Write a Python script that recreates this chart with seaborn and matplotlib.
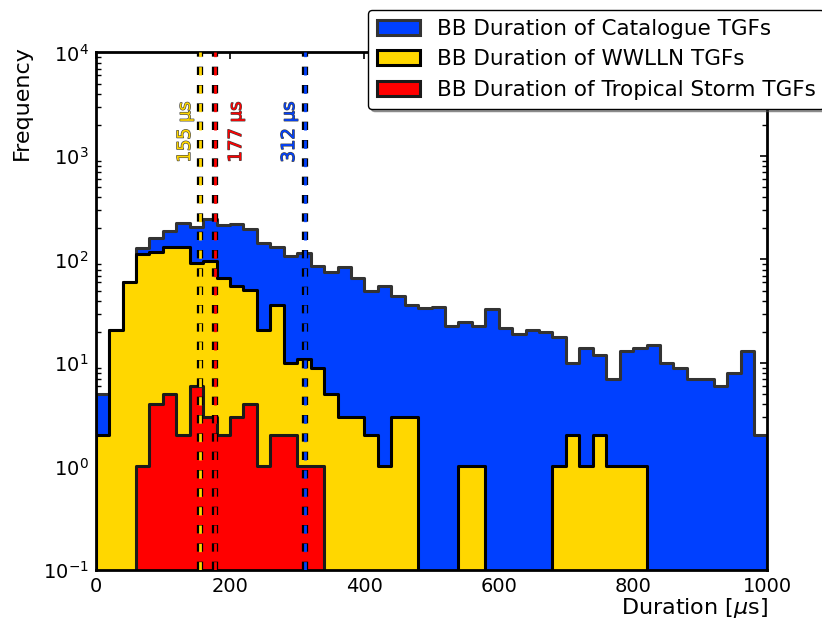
import numpy as np
import pandas as pd
import matplotlib
matplotlib.use("Agg")
import matplotlib.pyplot as plt
import matplotlib.patheffects as pe
import seaborn as sns

# Burst-duration histograms, 20 µs bins from 0 to 1000 µs
bin_width = 20
duration_range = (0, 1000)
bin_edges = np.arange(duration_range[0], duration_range[1] + bin_width, bin_width)
bin_centers = bin_edges[:-1] + bin_width / 2

catalogue_counts = [5, 21, 60, 128, 162, 187, 224, 207, 248, 215,
                    219, 196, 143, 133, 109, 115, 86, 75, 84, 66,
                    50, 55, 44, 36, 34, 35, 23, 25, 23, 33,
                    22, 19, 21, 20, 18, 10, 14, 12, 7, 13,
                    14, 15, 10, 9, 7, 7, 6, 8, 13, 2]
wwlln_counts = [2, 21, 60, 112, 117, 131, 131, 93, 97, 66,
                55, 51, 21, 36, 10, 11, 9, 5, 3, 3,
                2, 1, 3, 3, 0, 0, 0, 1, 1, 0,
                0, 0, 0, 0, 1, 2, 1, 2, 1, 1,
                1, 0, 0, 0, 0, 0, 0, 0, 0, 0]
storm_counts = [0, 0, 0, 1, 4, 5, 2, 6, 3, 2,
                3, 4, 1, 2, 2, 1, 1, 0, 0, 0,
                0, 0, 0, 0, 0, 0, 0, 0, 0, 0,
                0, 0, 0, 0, 0, 0, 0, 0, 0, 0,
                0, 0, 0, 0, 0, 0, 0, 0, 0, 0]

series_labels = ["BB Duration of Catalogue TGFs",
                 "BB Duration of WWLLN TGFs",
                 "BB Duration of Tropical Storm TGFs"]

# Median durations (µs)
median_values = [312, 155, 177]
median_texts = ["312 µs", "155 µs", "177 µs"]
median_text_x = [288, 133, 209]
median_text_y = 1700

blue = "#0040FF"
gold = "#FFD700"
red = "#FF0000"

sns.set_style("white")
plt.rcParams["font.family"] = ["DejaVu Sans"]
plt.rcParams["mathtext.fontset"] = "dejavusans"
plt.rcParams["axes.unicode_minus"] = False
for key in ["text.color", "axes.labelcolor", "xtick.color", "ytick.color"]:
    plt.rcParams[key] = "black"

fig = plt.figure(figsize=(8.22, 6.19), dpi=100)
ax = fig.add_axes([0.1164, 0.0792, 0.8172, 0.836])

series = [
    (catalogue_counts, blue, "#333333"),
    (wwlln_counts, gold, "black"),
    (storm_counts, red, "#1a1a1a"),
]
for (counts, face, edge), label in zip(series, series_labels):
    df = pd.DataFrame({"duration": bin_centers, "count": counts})
    sns.histplot(data=df, x="duration", weights="count",
                 binwidth=bin_width, binrange=duration_range,
                 element="step", fill=True, alpha=1, facecolor=face,
                 edgecolor=edge, linewidth=2.2, label=label, ax=ax)

ax.set_yscale("log")
ax.set_xlim(0, 1000)
ax.set_ylim(0.1, 1e4)

# Median markers: coloured dashes with a dark outline
for val, col in zip(median_values, [blue, gold, red]):
    ax.axvline(val, color=col, lw=2, ls=(0, (3, 3.6)), zorder=5,
               path_effects=[pe.Stroke(linewidth=4.5, foreground="black"),
                             pe.Normal()])
for txt, tx, col in zip(median_texts, median_text_x, [blue, gold, red]):
    ax.text(tx, median_text_y, txt, rotation=90, ha="center", va="center",
            fontsize=13, color=col, zorder=6,
            path_effects=[pe.withStroke(linewidth=0.9, foreground="#444444")])

ax.set_xticks([0, 200, 400, 600, 800, 1000])
ax.tick_params(axis="both", which="major", direction="in", length=5,
               width=1.2, top=True, right=True, labelsize=14, pad=5)
ax.tick_params(axis="y", which="minor", direction="in", length=3.5,
               width=1, left=True, right=True)
ax.tick_params(axis="x", which="minor", bottom=False, top=False)
for sp in ax.spines.values():
    sp.set_linewidth(2)
    sp.set_color("black")

ax.set_xlabel("Duration [$\\mu$s]", fontsize=16, loc="right", labelpad=0)
ax.set_ylabel("Frequency", fontsize=16, loc="top")
ax.yaxis.set_label_coords(-0.095, 1.015)

leg = ax.legend(loc="upper right", bbox_to_anchor=(1.085, 1.082),
                borderaxespad=0, fontsize=15.5, frameon=True, fancybox=True,
                shadow=True, framealpha=1, edgecolor="black",
                handlelength=2.0, labelspacing=0.5)
leg.get_frame().set_linewidth(1.0)

fig.savefig("out.png", dpi=100)
